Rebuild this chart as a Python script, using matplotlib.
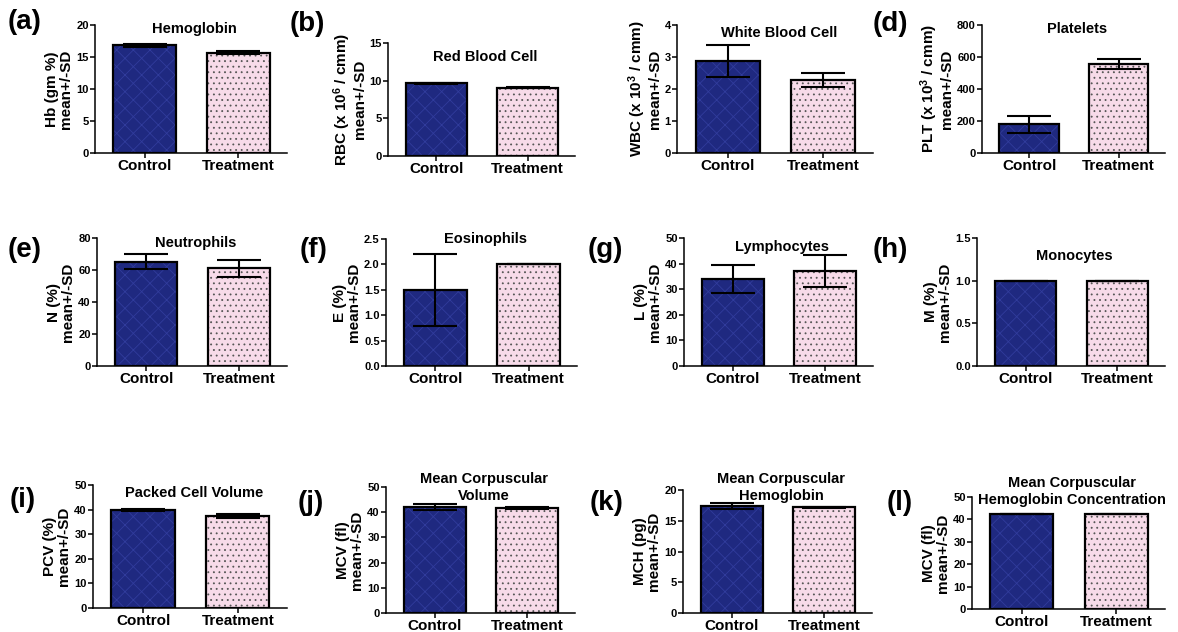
import matplotlib
matplotlib.use('Agg')
import matplotlib.pyplot as plt
import numpy as np

plt.rcParams['font.family'] = ['Liberation Sans', 'DejaVu Sans']
plt.rcParams['font.weight'] = 'bold'
plt.rcParams['mathtext.fontset'] = 'custom'
plt.rcParams['mathtext.rm'] = 'Liberation Sans:bold'
plt.rcParams['mathtext.bf'] = 'Liberation Sans:bold'
plt.rcParams['mathtext.default'] = 'bf'
plt.rcParams['hatch.linewidth'] = 0.6

# data
groups = ['Control', 'Treatment']
panel_tags = ['(a)', '(b)', '', '(d)', '(e)', '(f)', '(g)', '(h)', '(i)', '(j)', '(k)', '(l)']
titles = ['Hemoglobin', 'Red Blood Cell', 'White Blood Cell', 'Platelets',
          'Neutrophils', 'Eosinophils', 'Lymphocytes', 'Monocytes',
          'Packed Cell Volume', 'Mean Corpuscular\nVolume',
          'Mean Corpuscular\nHemoglobin', 'Mean Corpuscular\nHemoglobin Concentration']
ylabels = ['Hb (gm %)', 'RBC (x 10$^{6}$ / cmm)', 'WBC (x 10$^{3}$ / cmm)',
           'PLT (x 10$^{3}$ / cmm)', 'N (%)', 'E (%)', 'L (%)', 'M (%)',
           'PCV (%)', 'MCV (fl)', 'MCH (pg)', 'MCV (fl)']
ymax = [20, 15, 4, 800, 80, 2.5, 50, 1.5, 50, 50, 20, 50]
ystep = [5, 5, 1, 200, 20, 0.5, 10, 0.5, 10, 10, 5, 10]
control_mean = [16.8, 9.65, 2.87, 180, 65.1, 1.5, 34.0, 1.0, 39.8, 41.9, 17.4, 42.3]
control_sd = [0.2, 0.1, 0.49, 52, 4.7, 0.71, 5.5, 0, 0.5, 1.2, 0.5, 0]
treat_mean = [15.7, 9.05, 2.27, 558, 61.0, 2.0, 37.1, 1.0, 37.4, 41.6, 17.2, 42.3]
treat_sd = [0.3, 0.05, 0.22, 32, 5.4, 0, 6.25, 0, 0.9, 0.3, 0.05, 0]

# layout (pixel boxes: x0, x1, ytop, ybottom)
W, H = 1178, 632
boxes = [(95, 287, 25, 153), (388, 575, 43, 156), (677, 873, 25, 153), (982, 1165, 25, 153),
         (97, 287, 238, 366), (386, 577, 239, 366), (684, 873, 238, 366), (977, 1165, 238, 366),
         (93, 287, 485, 608), (386, 575, 487, 613), (683, 872, 490, 613), (972, 1165, 497, 609)]
title_y = [0.97, 0.876, 0.94, 0.97, 0.96, 1.0, 0.93, 0.86, 0.935, 0.996, 1.02, 1.05]
tag_pos = [(8, 22), (290, 24), (0, 0), (873, 24), (8, 250), (300, 250), (588, 250),
           (873, 250), (10, 500), (298, 503), (590, 503), (887, 503)]

navy = '#1f2980'
pink = '#f7dbe9'

fig = plt.figure(figsize=(W / 100, H / 100), dpi=100)

for i in range(12):
    x0, x1, yt, yb = boxes[i]
    ax = fig.add_axes([x0 / W, (H - yb) / H, (x1 - x0) / W, (yb - yt) / H])
    x = np.arange(2)
    means = [control_mean[i], treat_mean[i]]
    sds = [control_sd[i], treat_sd[i]]
    # fill + pattern
    ax.bar(x[0], means[0], width=0.67, color=navy, edgecolor='#313c9c', hatch='xx', linewidth=0, zorder=1)
    ax.bar(x[1], means[1], width=0.67, color=pink, edgecolor='#555555', hatch='...', linewidth=0, zorder=1)
    # outline
    ax.bar(x, means, width=0.67, fill=False, edgecolor='black', linewidth=1.6, zorder=2)
    ax.errorbar(x, means, yerr=sds, fmt='none', ecolor='black', elinewidth=1.5,
                capsize=16, capthick=1.5, zorder=3)

    ax.set_xlim(-0.53, 1.52)
    ax.set_ylim(0, ymax[i])
    ax.set_yticks(np.arange(0, ymax[i] + ystep[i] / 2, ystep[i]))
    if ystep[i] < 1:
        ax.yaxis.set_major_formatter(matplotlib.ticker.FormatStrFormatter('%.1f'))
    ax.set_xticks(x)
    ax.set_xticklabels(groups, fontsize=11, fontweight='bold')
    ax.tick_params(axis='y', labelsize=8, width=1.1, length=3.5, pad=1)
    ax.tick_params(axis='x', width=1.1, length=3.5, pad=1)
    for s in ['top', 'right']:
        ax.spines[s].set_visible(False)
    for s in ['left', 'bottom']:
        ax.spines[s].set_linewidth(1.1)
    ax.set_ylabel(ylabels[i] + '\nmean+/-SD', fontsize=11, fontweight='bold', labelpad=2,
                  linespacing=1.0)
    ax.text(0.52, title_y[i], titles[i], transform=ax.transAxes, ha='center', va='center',
            fontsize=10.5, fontweight='bold', linespacing=1.25)
    if panel_tags[i]:
        tx, ty = tag_pos[i]
        fig.text(tx / W, (H - ty) / H, panel_tags[i], ha='left', va='center',
                 fontsize=20, fontweight='bold')

fig.savefig('out.png', dpi=100)
